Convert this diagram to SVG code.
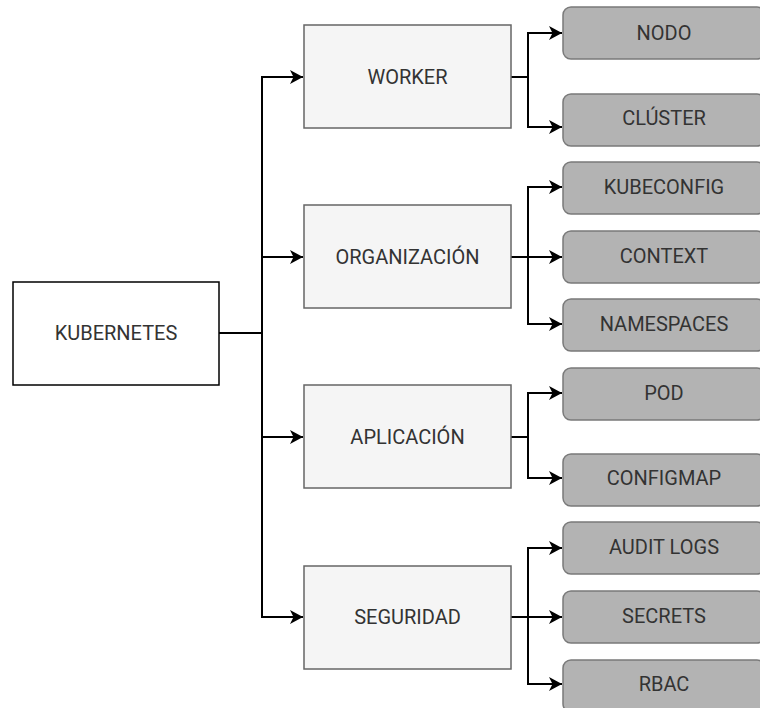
<svg xmlns="http://www.w3.org/2000/svg" width="760" height="708" viewBox="0 0 760 708">
<style>
.root{fill:#ffffff;stroke:#000000;stroke-width:1.5}
.mid{fill:#f5f5f5;stroke:#666666;stroke-width:1.5}
.leaf{fill:#b3b3b3;stroke:#7a7a7a;stroke-width:1.5}
.t{font-family:Roboto,"Liberation Sans",sans-serif;font-size:20px;fill:#333333;text-anchor:middle}
.e{fill:none;stroke:#000000;stroke-width:2}
</style>
<defs>
<marker id="arr" markerUnits="userSpaceOnUse" markerWidth="16" markerHeight="16" viewBox="-14 -8 16 16" refX="0" refY="0" orient="auto">
<path d="M0,0 L-13,-7 L-9.5,0 L-13,7 Z" fill="#000000"/>
</marker>
</defs>
<rect width="760" height="708" fill="#ffffff"/>
<g id="edges">
<path class="e" d="M219,333 H262"/>
<path class="e" d="M262,333 V77 H303" marker-end="url(#arr)"/>
<path class="e" d="M262,333 V257 H303" marker-end="url(#arr)"/>
<path class="e" d="M262,333 V437 H303" marker-end="url(#arr)"/>
<path class="e" d="M262,333 V617 H303" marker-end="url(#arr)"/>
<path class="e" d="M511,77 H528 V33 H562" marker-end="url(#arr)"/>
<path class="e" d="M511,77 H528 V127 H562" marker-end="url(#arr)"/>
<path class="e" d="M511,257 H528 V187 H562" marker-end="url(#arr)"/>
<path class="e" d="M511,257 H562" marker-end="url(#arr)"/>
<path class="e" d="M511,257 H528 V324 H562" marker-end="url(#arr)"/>
<path class="e" d="M511,437 H528 V393 H562" marker-end="url(#arr)"/>
<path class="e" d="M511,437 H528 V478 H562" marker-end="url(#arr)"/>
<path class="e" d="M511,617 H528 V548 H562" marker-end="url(#arr)"/>
<path class="e" d="M511,617 H562" marker-end="url(#arr)"/>
<path class="e" d="M511,617 H528 V684 H562" marker-end="url(#arr)"/>
</g>
<g id="kubernetes"><rect class="root" x="13" y="282" width="206" height="103"/><text class="t" x="116" y="340">KUBERNETES</text></g>
<g id="worker"><rect class="mid" x="304" y="25" width="207" height="103"/><text class="t" x="407.5" y="84">WORKER</text></g>
<g id="organizacion"><rect class="mid" x="304" y="205" width="207" height="103"/><text class="t" x="407.5" y="264">ORGANIZACIÓN</text></g>
<g id="aplicacion"><rect class="mid" x="304" y="385" width="207" height="103"/><text class="t" x="407.5" y="444">APLICACIÓN</text></g>
<g id="seguridad"><rect class="mid" x="304" y="566" width="207" height="103"/><text class="t" x="407.5" y="624">SEGURIDAD</text></g>
<g id="nodo"><rect class="leaf" x="563" y="7" width="202" height="52" rx="8"/><text class="t" x="664" y="40">NODO</text></g>
<g id="cluster"><rect class="leaf" x="563" y="94" width="202" height="52" rx="8"/><text class="t" x="664" y="125">CLÚSTER</text></g>
<g id="kubeconfig"><rect class="leaf" x="563" y="162" width="202" height="52" rx="8"/><text class="t" x="664" y="194">KUBECONFIG</text></g>
<g id="context"><rect class="leaf" x="563" y="231" width="202" height="52" rx="8"/><text class="t" x="664" y="263">CONTEXT</text></g>
<g id="namespaces"><rect class="leaf" x="563" y="299" width="202" height="52" rx="8"/><text class="t" x="664" y="331">NAMESPACES</text></g>
<g id="pod"><rect class="leaf" x="563" y="368" width="202" height="52" rx="8"/><text class="t" x="664" y="400">POD</text></g>
<g id="configmap"><rect class="leaf" x="563" y="454" width="202" height="52" rx="8"/><text class="t" x="664" y="485">CONFIGMAP</text></g>
<g id="auditlogs"><rect class="leaf" x="563" y="522" width="202" height="52" rx="8"/><text class="t" x="664" y="554">AUDIT LOGS</text></g>
<g id="secrets"><rect class="leaf" x="563" y="591" width="202" height="52" rx="8"/><text class="t" x="664" y="623">SECRETS</text></g>
<g id="rbac"><rect class="leaf" x="563" y="660" width="202" height="52" rx="8"/><text class="t" x="664" y="691">RBAC</text></g>
</svg>
